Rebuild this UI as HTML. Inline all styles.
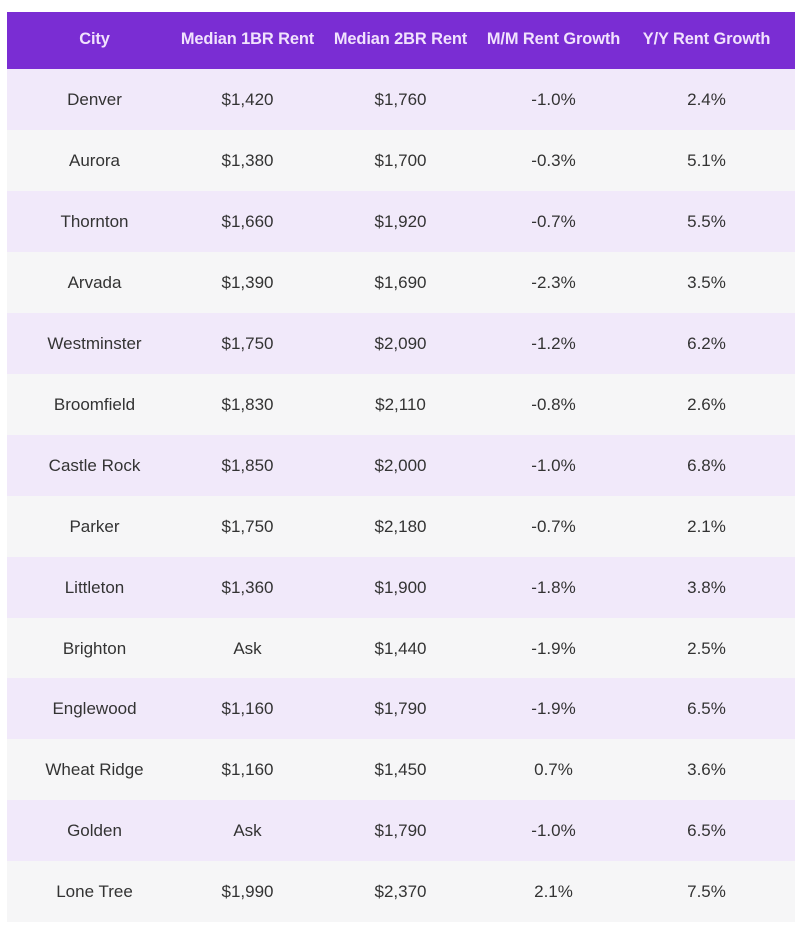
<!DOCTYPE html>
<html>
<head>
<meta charset="utf-8">
<style>
  html, body { margin:0; padding:0; background:#ffffff; }
  body { width:800px; height:931px; position:relative; overflow:hidden; font-family:"Liberation Sans", Arial, sans-serif; }
  .hdr { position:absolute; left:7px; top:12px; width:788px; height:57px; background:#7a2dd3; }
  .row { position:absolute; left:7px; width:788px; height:61px; }
  .odd { background:#f1e9fa; }
  .even { background:#f6f6f7; }
  .c { position:absolute; width:153px; text-align:center; white-space:nowrap; }
  .hdr .c { top:0; height:57px; line-height:55px; color:#f1e2fd; font-weight:bold; font-size:16.4px; letter-spacing:-0.1px; }
  .row .c { top:0; height:61px; line-height:61px; color:#333333; font-size:17px; }
  .c1 { left:11px; }
  .c2 { left:164px; }
  .c3 { left:317px; }
  .c4 { left:470px; }
  .c5 { left:623px; }
</style>
</head>
<body>
  <div class="hdr">
    <div class="c c1">City</div>
    <div class="c c2">Median 1BR Rent</div>
    <div class="c c3">Median 2BR Rent</div>
    <div class="c c4">M/M Rent Growth</div>
    <div class="c c5">Y/Y Rent Growth</div>
  </div>

  <div class="row odd" style="top:69px;">
    <div class="c c1">Denver</div><div class="c c2">$1,420</div><div class="c c3">$1,760</div><div class="c c4">-1.0%</div><div class="c c5">2.4%</div>
  </div>
  <div class="row even" style="top:130px;">
    <div class="c c1">Aurora</div><div class="c c2">$1,380</div><div class="c c3">$1,700</div><div class="c c4">-0.3%</div><div class="c c5">5.1%</div>
  </div>
  <div class="row odd" style="top:191px;">
    <div class="c c1">Thornton</div><div class="c c2">$1,660</div><div class="c c3">$1,920</div><div class="c c4">-0.7%</div><div class="c c5">5.5%</div>
  </div>
  <div class="row even" style="top:252px;">
    <div class="c c1">Arvada</div><div class="c c2">$1,390</div><div class="c c3">$1,690</div><div class="c c4">-2.3%</div><div class="c c5">3.5%</div>
  </div>
  <div class="row odd" style="top:313px;">
    <div class="c c1">Westminster</div><div class="c c2">$1,750</div><div class="c c3">$2,090</div><div class="c c4">-1.2%</div><div class="c c5">6.2%</div>
  </div>
  <div class="row even" style="top:374px;">
    <div class="c c1">Broomfield</div><div class="c c2">$1,830</div><div class="c c3">$2,110</div><div class="c c4">-0.8%</div><div class="c c5">2.6%</div>
  </div>
  <div class="row odd" style="top:435px;">
    <div class="c c1">Castle Rock</div><div class="c c2">$1,850</div><div class="c c3">$2,000</div><div class="c c4">-1.0%</div><div class="c c5">6.8%</div>
  </div>
  <div class="row even" style="top:496px;">
    <div class="c c1">Parker</div><div class="c c2">$1,750</div><div class="c c3">$2,180</div><div class="c c4">-0.7%</div><div class="c c5">2.1%</div>
  </div>
  <div class="row odd" style="top:557px;">
    <div class="c c1">Littleton</div><div class="c c2">$1,360</div><div class="c c3">$1,900</div><div class="c c4">-1.8%</div><div class="c c5">3.8%</div>
  </div>
  <div class="row even" style="top:618px;">
    <div class="c c1">Brighton</div><div class="c c2">Ask</div><div class="c c3">$1,440</div><div class="c c4">-1.9%</div><div class="c c5">2.5%</div>
  </div>
  <div class="row odd" style="top:678px;">
    <div class="c c1">Englewood</div><div class="c c2">$1,160</div><div class="c c3">$1,790</div><div class="c c4">-1.9%</div><div class="c c5">6.5%</div>
  </div>
  <div class="row even" style="top:739px;">
    <div class="c c1">Wheat Ridge</div><div class="c c2">$1,160</div><div class="c c3">$1,450</div><div class="c c4">0.7%</div><div class="c c5">3.6%</div>
  </div>
  <div class="row odd" style="top:800px;">
    <div class="c c1">Golden</div><div class="c c2">Ask</div><div class="c c3">$1,790</div><div class="c c4">-1.0%</div><div class="c c5">6.5%</div>
  </div>
  <div class="row even" style="top:861px;">
    <div class="c c1">Lone Tree</div><div class="c c2">$1,990</div><div class="c c3">$2,370</div><div class="c c4">2.1%</div><div class="c c5">7.5%</div>
  </div>
</body>
</html>
